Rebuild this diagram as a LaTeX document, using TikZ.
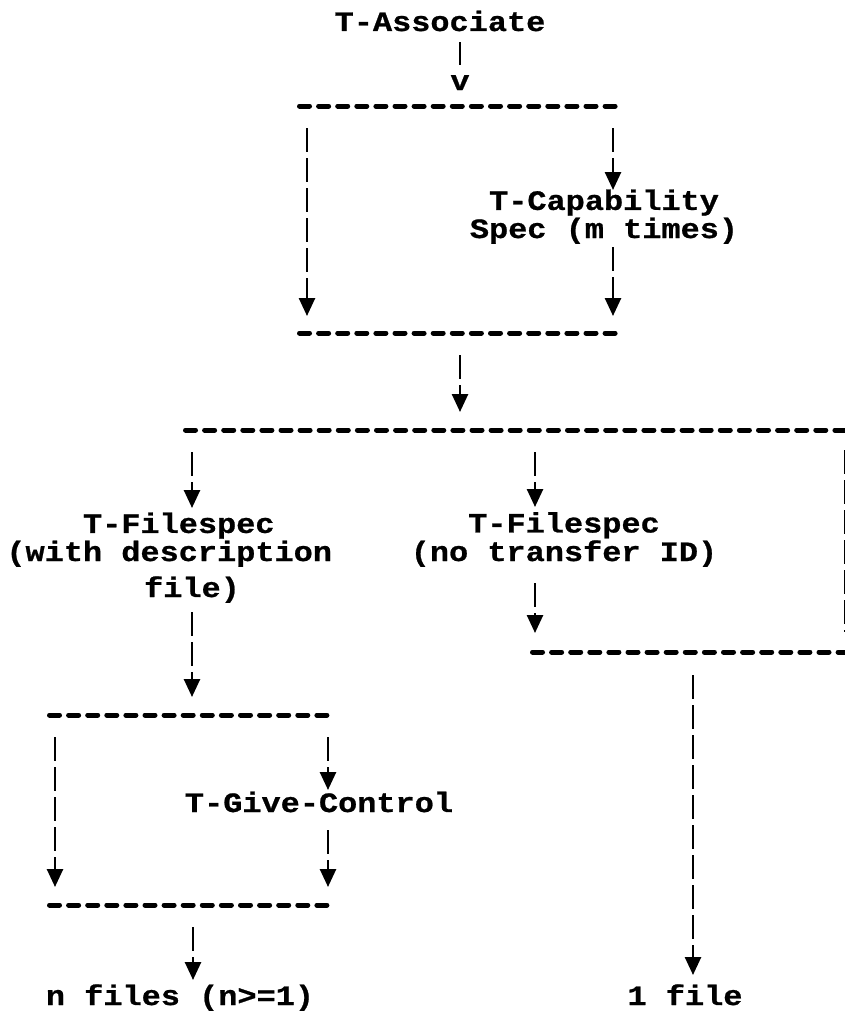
\documentclass[tikz,border=0pt]{standalone}
\usepackage{fontspec}
\setmonofont{Liberation Mono}[FakeStretch=1.14, BoldFeatures={FakeBold=0.8}]
\usetikzlibrary{arrows.meta}
\tikzset{
  lbl/.style={font=\ttfamily\bfseries\fontsize{14pt}{12.4pt}\selectfont, inner sep=0pt, anchor=base},
  hline/.style={line width=2.5pt, line cap=round, dash pattern=on 5pt off 4.55pt},
  bar/.style={line width=1.3pt, dash pattern=on 12pt off 3pt},
  conn/.style={bar, -{Triangle[width=8pt,length=9pt]}},
}
\begin{document}
\begin{tikzpicture}[x=0.5pt,y=-0.5pt]
\fill[white] (0,0) rectangle (845,1012);
\useasboundingbox (0,0) rectangle (845,1012);
\clip (0,0) rectangle (845,1012);

% texts (multi-line nodes: base = baseline of last line)
\node[lbl] (assoc) at (440,31) {T-Associate};
\node[lbl] (v) at (460,90) {v};
\node[lbl, align=center] (cap) at (604,238) {T-Capability\\Spec (m times)};
\node[lbl, align=left, anchor=base west] (fs1) at (6,561) {\hphantom{xxxx}T-Filespec\\(with description};
\node[lbl] (fs1c) at (192,597) {file)};
\node[lbl, align=center] (fs2) at (564,561) {T-Filespec\\(no transfer ID)};
\node[lbl] (give) at (319,812) {T-Give-Control};
\node[lbl] (nfiles) at (180,1005) {n files (n>=1)};
\node[lbl] (onefile) at (685,1005) {1 file};

% horizontal dashed lines
\coordinate (b1l) at (299.5,106); \coordinate (b1r) at (615.1,106);
\coordinate (b2l) at (299.5,333); \coordinate (b2r) at (615.1,333);
\coordinate (bigl) at (185.5,430); \coordinate (bigr) at (860,430);
\coordinate (lrl) at (532.5,652); \coordinate (lrr) at (860,652);
\coordinate (b3l) at (49.5,715); \coordinate (b3r) at (326.9,715);
\coordinate (b4l) at (49.5,905); \coordinate (b4r) at (326.9,905);
\draw[hline] (b1l) -- (b1r);
\draw[hline] (b2l) -- (b2r);
\draw[hline] (bigl) -- (bigr);
\draw[hline] (lrl) -- (lrr);
\draw[hline] (b3l) -- (b3r);
\draw[hline] (b4l) -- (b4r);

% vertical connectors
\coordinate (a0s) at (460,42);  \coordinate (a0e) at (460,65);
\draw[bar] (a0s) -- (a0e);
\coordinate (t1s) at (307,128); \coordinate (t1e) at (307,316);
\coordinate (t2s) at (613,128); \coordinate (t2e) at (613,190);
\coordinate (t3s) at (613,247); \coordinate (t3e) at (613,316);
\coordinate (m1s) at (460,355); \coordinate (m1e) at (460,412);
\coordinate (l1s) at (192,452); \coordinate (l1e) at (192,508);
\coordinate (c1s) at (535,452); \coordinate (c1e) at (535,507);
\coordinate (c2s) at (535,583); \coordinate (c2e) at (535,633);
\coordinate (l2s) at (192,612); \coordinate (l2e) at (192,697);
\coordinate (g1s) at (55,737);  \coordinate (g1e) at (55,887);
\coordinate (g2s) at (328,737); \coordinate (g2e) at (328,790);
\coordinate (g3s) at (328,830); \coordinate (g3e) at (328,887);
\coordinate (n1s) at (193,927); \coordinate (n1e) at (193,980);
\coordinate (r1s) at (693,675); \coordinate (r1e) at (693,975);
\coordinate (res) at (845,450); \coordinate (ree) at (845,632);
\draw[conn] (t1s) -- (t1e);
\draw[conn] (t2s) -- (t2e);
\draw[conn] (t3s) -- (t3e);
\draw[conn] (m1s) -- (m1e);
\draw[conn] (l1s) -- (l1e);
\draw[conn] (c1s) -- (c1e);
\draw[conn] (c2s) -- (c2e);
\draw[conn] (l2s) -- (l2e);
\draw[conn] (g1s) -- (g1e);
\draw[conn] (g2s) -- (g2e);
\draw[conn] (g3s) -- (g3e);
\draw[conn] (n1s) -- (n1e);
\draw[conn] (r1s) -- (r1e);
\draw[bar] (res) -- (ree);
\end{tikzpicture}
\end{document}
